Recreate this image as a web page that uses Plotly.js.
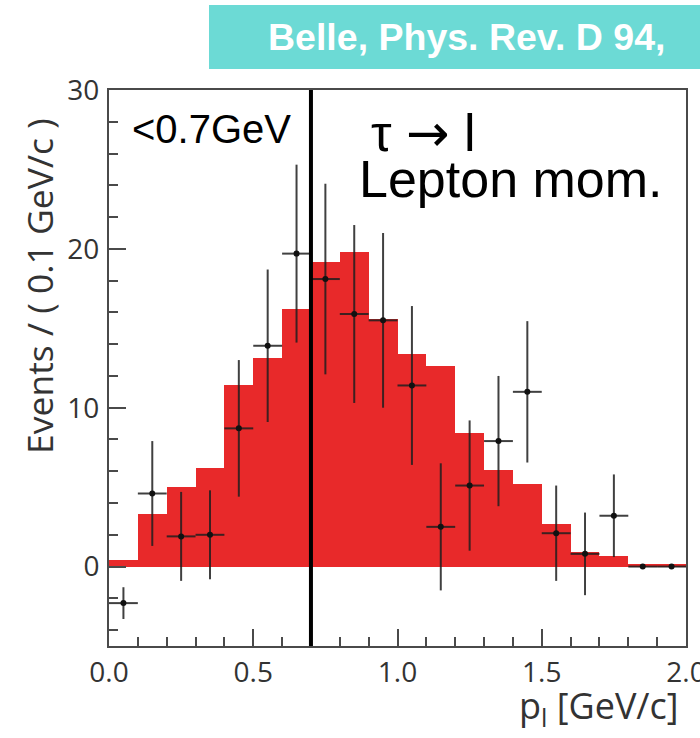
<!DOCTYPE html>
<html>
<head>
<meta charset="utf-8">
<script src="https://cdn.plot.ly/plotly-3.0.1.min.js"></script>
<style>html,body{margin:0;padding:0;background:#fff;}#chart{width:700px;height:738px;}</style>
</head>
<body>
<div id="chart"></div>
<script>
// bin centers (GeV/c), bin width 0.1
const binCenters = [0.05,0.15,0.25,0.35,0.45,0.55,0.65,0.75,0.85,0.95,1.05,1.15,1.25,1.35,1.45,1.55,1.65,1.75,1.85,1.95];
const histVals   = [0.4,3.3,5.0,6.2,11.4,13.1,16.2,19.2,19.8,15.6,13.4,12.6,8.4,6.1,5.2,2.7,0.9,0.65,0.15,0.15];
const dataVals   = [-2.3,4.6,1.9,2.0,8.7,13.9,19.7,18.1,15.9,15.5,11.4,2.5,5.1,7.9,11.0,2.1,0.8,3.2,0,0];
const dataErr    = [1.0,3.3,2.8,2.8,4.3,4.8,5.6,6.0,5.6,5.5,5.0,4.0,4.1,4.1,4.45,3.0,2.6,2.6,0,0];
const binHalfWidth = 0.05;
const cutValue = 0.7;
const xTickVals = [0, 0.5, 1.0, 1.5, 2.0];
const xTickText = ["0.0","0.5","1.0","1.5","2.0"];
const yTickVals = [0, 10, 20, 30];
const yTickText = ["0","10","20","30"];

const axisColor = '#4a4a4a';
const tickFont = {family: 'Open Sans, sans-serif', size: 28, color: '#333'};

const traces = [
  {
    type: 'bar', x: binCenters, y: histVals, width: 0.1,
    marker: {color: '#E8292A', line: {width: 0}},
    hoverinfo: 'skip', showlegend: false
  },
  {
    type: 'scatter', mode: 'markers', x: binCenters, y: dataVals,
    marker: {color: '#111', size: 6},
    error_y: {type: 'data', array: dataErr, visible: true, color: 'rgba(30,30,30,0.85)', thickness: 2, width: 0},
    error_x: {type: 'constant', value: binHalfWidth, visible: true, color: 'rgba(30,30,30,0.85)', thickness: 2, width: 0},
    showlegend: false
  }
];

const layout = {
  width: 700, height: 738,
  margin: {l: 109, r: 14, t: 90, b: 92},
  paper_bgcolor: '#fff', plot_bgcolor: '#fff',
  bargap: 0,
  showlegend: false,
  xaxis: {
    range: [0, 2], showgrid: false, zeroline: false,
    showline: true, linecolor: axisColor, linewidth: 2, mirror: true,
    ticks: 'inside', ticklen: 17, tickwidth: 2, tickcolor: axisColor,
    tickvals: xTickVals, ticktext: xTickText, tickfont: tickFont,
    ticklabelstandoff: 0, ticklabeloverflow: 'allow',
    minor: {tick0: 0, dtick: 0.1, ticks: 'inside', ticklen: 9, tickwidth: 2, tickcolor: axisColor, showgrid: false}
  },
  yaxis: {
    range: [-5, 30], showgrid: false, zeroline: false,
    showline: true, linecolor: axisColor, linewidth: 2, mirror: true,
    ticks: 'inside', ticklen: 17, tickwidth: 2, tickcolor: axisColor,
    tickvals: yTickVals, ticktext: yTickText, tickfont: tickFont,
    ticklabelstandoff: 2,
    minor: {tick0: 0, dtick: 2, ticks: 'inside', ticklen: 9, tickwidth: 2, tickcolor: axisColor, showgrid: false}
  },
  shapes: [
    {type: 'line', xref: 'x', yref: 'paper', x0: cutValue, x1: cutValue, y0: 0, y1: 1,
     line: {color: '#000', width: 4}},
    {type: 'rect', xref: 'paper', yref: 'paper', x0: 0.1733, x1: 1.03, y0: 1.0378, y1: 1.153,
     fillcolor: '#6CDAD5', line: {width: 0}, layer: 'above'}
  ],
  annotations: [
    {xref: 'paper', yref: 'paper', x: 0.619, y: 1.0953, xanchor: 'center', yanchor: 'middle',
     text: '<b>Belle, Phys. Rev. D 94,</b>', showarrow: false,
     font: {family: 'Liberation Sans, Arial, sans-serif', size: 37.5, color: '#fff'}},
    {xref: 'paper', yref: 'paper', x: 0.036, y: 0.93, xanchor: 'left', yanchor: 'middle',
     text: '&lt;0.7GeV', showarrow: false,
     font: {family: 'Liberation Sans, Arial, sans-serif', size: 40, color: '#000'}},
    {xref: 'paper', yref: 'paper', x: 0.45, y: 0.922, xanchor: 'left', yanchor: 'middle',
     text: 'τ <span style="font-family:DejaVu Sans">→</span> l', showarrow: false,
     font: {family: 'Liberation Sans, Arial, sans-serif', size: 52, color: '#000'}},
    {xref: 'paper', yref: 'paper', x: 0.429, y: 0.84, xanchor: 'left', yanchor: 'middle',
     text: 'Lepton mom.', showarrow: false,
     font: {family: 'Liberation Sans, Arial, sans-serif', size: 52, color: '#000'}},
    {xref: 'paper', yref: 'paper', x: -0.1213, y: 0.6475, xanchor: 'center', yanchor: 'middle',
     textangle: -90, text: 'Events / ( 0.1 GeV/c )', showarrow: false,
     font: {family: 'Open Sans, sans-serif', size: 35.5, color: '#333'}},
    {xref: 'paper', yref: 'paper', x: 0.992, y: -0.11, xanchor: 'right', yanchor: 'middle',
     text: 'p<sub>l</sub> [GeV/c]', showarrow: false,
     font: {family: 'Open Sans, sans-serif', size: 36, color: '#333'}}
  ]
};

Plotly.newPlot('chart', traces, layout, {displayModeBar: false, staticPlot: true});
</script>
</body>
</html>
